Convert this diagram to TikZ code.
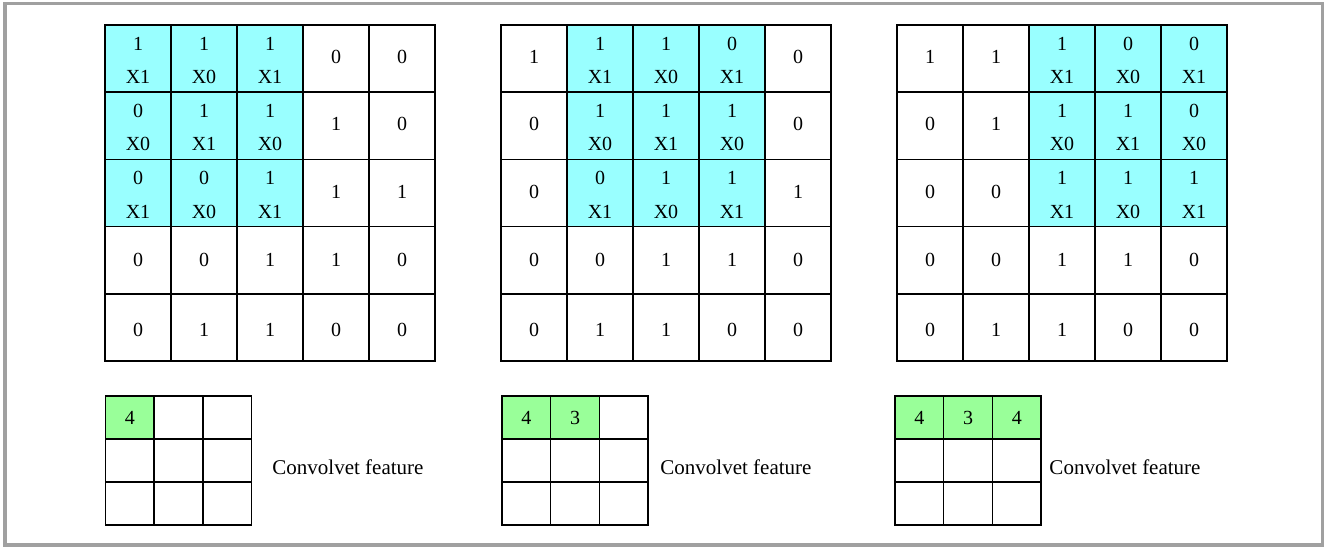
\documentclass[tikz,border=0pt]{standalone}
\usepackage{fontspec}
\setmainfont{Liberation Serif}
\definecolor{cellcyan}{RGB}{153,255,255}
\definecolor{cellgreen}{RGB}{153,255,153}
\definecolor{framegray}{RGB}{160,160,160}
\tikzset{
  cell/.style={draw=black, line width=1.5pt, minimum width=66pt, minimum height=67.2pt, inner sep=0pt, anchor=center},
  hot/.style={cell, fill=cellcyan},
  smallcell/.style={draw=black, line width=1.5pt, minimum width=48.7pt, minimum height=43pt, inner sep=0pt, anchor=center, font=\fontsize{20}{24}\selectfont},
  donecell/.style={smallcell, fill=cellgreen},
  txt/.style={inner sep=0pt, anchor=center, font=\fontsize{20}{24}\selectfont},
  captiontxt/.style={inner sep=0pt, anchor=center, font=\fontsize{21}{25}\selectfont},
}
\begin{document}
\begin{tikzpicture}[x=1pt,y=-1pt]
\useasboundingbox (0,0) rectangle (1326,548);
\draw[framegray, line width=3.5pt] (5,3.5) rectangle (1322.5,545);

% common lower rows
\foreach \g/\gx in {1/105,2/501,3/897}{
  \foreach \r/\c/\v/\dy in {4/1/0/0,4/2/0/0,4/3/1/0,4/4/1/0,4/5/0/0,5/1/0/2.5,5/2/1/2.5,5/3/1/2.5,5/4/0/2.5,5/5/0/2.5}{
    \pgfmathsetmacro{\cx}{\gx+66*(\c-0.5)}
    \pgfmathsetmacro{\cy}{25+67.2*(\r-0.5)}
    \node[cell] (g\g-\r-\c) at (\cx,\cy) {};
    \node[txt] (g\g-\r-\c-v) at (\cx,\cy+\dy) {\v};
  }
}

% plain upper cells
\foreach \g/\gx/\lst in {
  1/105/{1/4/0,1/5/0,2/4/1,2/5/0,3/4/1,3/5/1},
  2/501/{1/1/1,1/5/0,2/1/0,2/5/0,3/1/0,3/5/1},
  3/897/{1/1/1,1/2/1,2/1/0,2/2/1,3/1/0,3/2/0}}{
  \foreach \r/\c/\v in \lst{
    \pgfmathsetmacro{\cx}{\gx+66*(\c-0.5)}
    \pgfmathsetmacro{\cy}{25+67.2*(\r-0.5)}
    \node[cell] (g\g-\r-\c) at (\cx,\cy) {};
    \node[txt] (g\g-\r-\c-v) at (\cx,\cy-1.5) {\v};
  }
}

% shaded (kernel) cells
\foreach \g/\gx/\lst in {
  1/105/{1/1/1/X1,1/2/1/X0,1/3/1/X1,2/1/0/X0,2/2/1/X1,2/3/1/X0,3/1/0/X1,3/2/0/X0,3/3/1/X1},
  2/501/{1/2/1/X1,1/3/1/X0,1/4/0/X1,2/2/1/X0,2/3/1/X1,2/4/1/X0,3/2/0/X1,3/3/1/X0,3/4/1/X1},
  3/897/{1/3/1/X1,1/4/0/X0,1/5/0/X1,2/3/1/X0,2/4/1/X1,2/5/0/X0,3/3/1/X1,3/4/1/X0,3/5/1/X1}}{
  \foreach \r/\c/\v/\w in \lst{
    \pgfmathsetmacro{\cx}{\gx+66*(\c-0.5)}
    \pgfmathsetmacro{\cy}{25+67.2*(\r-0.5)}
    \node[hot] (g\g-\r-\c) at (\cx,\cy) {};
    \node[txt] (g\g-\r-\c-v) at (\cx,\cy-15) {\v};
    \node[txt] (g\g-\r-\c-w) at (\cx,\cy+18.5) {\w};
  }
}

% small result grids
\foreach \g/\sx/\k/\cap in {1/105.5/1/348,2/502/2/736,3/895/3/1125}{
  \foreach \r in {1,2,3}{
    \foreach \c in {1,2,3}{
      \pgfmathsetmacro{\cx}{\sx+48.7*(\c-0.5)}
      \pgfmathsetmacro{\cy}{396+43*(\r-0.5)}
      \node[smallcell] (s\g-\r-\c) at (\cx,\cy) {};
    }
  }
  \node[captiontxt] (cap\g) at (\cap,467) {Convolvet feature};
}
\node[donecell] (s1-1-1) at (129.85,417.5) {4};
\node[donecell] (s2-1-1) at (526.35,417.5) {4};
\node[donecell] (s2-1-2) at (575.05,417.5) {3};
\node[donecell] (s3-1-1) at (919.35,417.5) {4};
\node[donecell] (s3-1-2) at (968.05,417.5) {3};
\node[donecell] (s3-1-3) at (1016.75,417.5) {4};
\end{tikzpicture}
\end{document}
